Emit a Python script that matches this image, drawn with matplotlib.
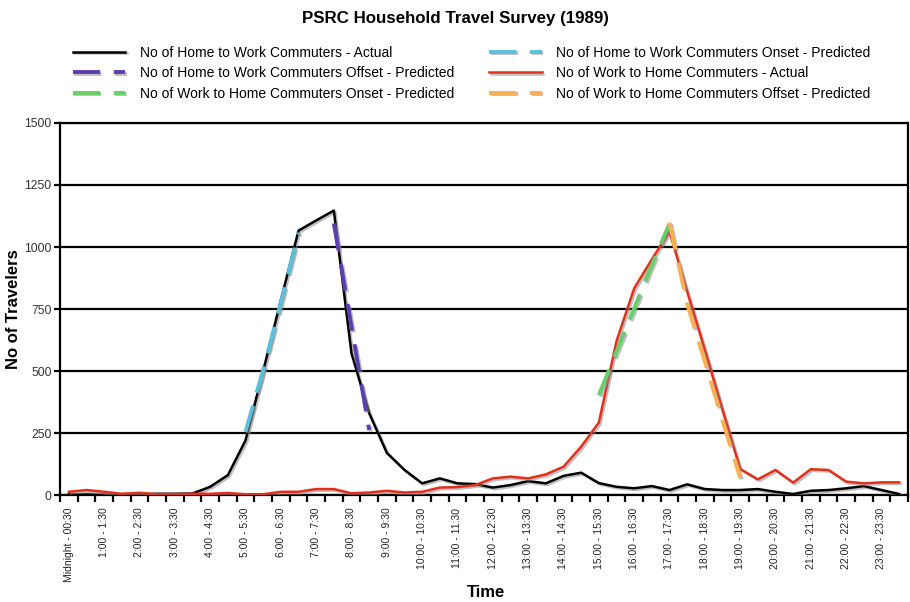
"""
PSRC Household Travel Survey (1989): home-to-work and work-to-home commuters
by half-hour interval, with the predicted onset/offset fits.
"""

import matplotlib.pyplot as plt
import matplotlib.patheffects as pe
import numpy as np

plt.rcParams['font.family'] = ['Liberation Sans', 'DejaVu Sans']

# ----------------------------------------------------------------------------
# Data
# ----------------------------------------------------------------------------
hours = ['Midnight'] + [f'{h}:00' for h in range(1, 24)]
time_labels = []
for h in range(24):
    start = hours[h]
    half = f'{h:02d}:30' if h == 0 else f'{h}:30'
    nxt = f'{h + 1}:00' if h < 23 else 'Midnight'
    time_labels.append(f'{start} - {half}')
    time_labels.append(f'{half} - {nxt}')

hw_actual = [3, 2, 1, 0, 2, 5, 5, 6, 33, 80, 220, 500, 785, 1066, 1107, 1147,
             571, 330, 170, 101, 47, 67, 47, 44, 30, 40, 56, 47, 77, 90, 48, 33,
             27, 36, 20, 43, 24, 20, 20, 24, 13, 4, 17, 20, 27, 36, 20, 4]

wh_actual = [13, 20, 13, 5, 9, 3, 3, 5, 5, 8, 3, 3, 13, 13, 24, 24,
             7, 10, 17, 10, 13, 30, 32, 40, 67, 74, 67, 83, 114, 195, 292, 620,
             833, 950, 1062, 820, 585, 343, 105, 63, 101, 50, 104, 101, 54, 47, 51, 51]

hw_onset_idx = [10, 11, 12, 13]
hw_onset = [255, 505, 775, 1058]

hw_offset_idx = [15, 16, 17]
hw_offset = [1095, 679, 262]

wh_onset_idx = [30, 31, 32, 33, 34]
wh_onset = [403, 578, 753, 927, 1095]

wh_offset_idx = [34, 35, 36, 37, 38]
wh_offset = [1098, 770, 538, 300, 70]

# ----------------------------------------------------------------------------
# Figure
# ----------------------------------------------------------------------------
fig = plt.figure(figsize=(9.1, 6.02), dpi=100)
ax = fig.add_axes([60 / 910, 1 - 495 / 602, 848 / 910, 372 / 602])

shadow = [pe.SimpleLineShadow(offset=(1.2, -1.2), shadow_color='0.55', alpha=0.55),
          pe.Normal()]

x = np.arange(len(time_labels))
dash = (7, 3.5)

l_hw, = ax.plot(x, hw_actual, color='black', lw=1.8, zorder=3,
                path_effects=shadow, label='No of Home to Work Commuters - Actual')
l_wh, = ax.plot(x, wh_actual, color='#e2301c', lw=1.8, zorder=3,
                path_effects=shadow, label='No of Work to Home Commuters - Actual')
l_hwon, = ax.plot(hw_onset_idx, hw_onset, color='#5bc0de', lw=2.8, dashes=dash,
                  zorder=4, path_effects=shadow,
                  label='No of Home to Work Commuters Onset - Predicted')
l_hwoff, = ax.plot(hw_offset_idx, hw_offset, color='#5b3fae', lw=2.8, dashes=dash,
                   zorder=4, path_effects=shadow,
                   label='No of Home to Work Commuters Offset - Predicted')
l_whon, = ax.plot(wh_onset_idx, wh_onset, color='#66cf6a', lw=2.8, dashes=dash,
                  zorder=4, path_effects=shadow,
                  label='No of Work to Home Commuters Onset - Predicted')
l_whoff, = ax.plot(wh_offset_idx, wh_offset, color='#fdb052', lw=2.8, dashes=dash,
                   zorder=4, path_effects=shadow,
                   label='No of Work to Home Commuters Offset - Predicted')

# axes, grid, ticks
ax.set_xlim(-0.5, len(time_labels) - 0.5)
ax.set_ylim(0, 1500)
ax.set_yticks(np.arange(0, 1501, 250))
ax.yaxis.grid(True, color='black', lw=1.6)
ax.set_axisbelow(True)
for s in ax.spines.values():
    s.set_linewidth(1.6)

ax.set_xticks(x[::2])
ax.set_xticklabels(time_labels[::2], rotation=90)
ax.set_xticks(np.arange(-0.5, len(time_labels)), minor=True)
ax.tick_params(axis='x', which='major', length=0, pad=9, labelsize=7.5,
               labelcolor='#222222')
ax.tick_params(axis='x', which='minor', length=5, width=1.6)
ax.tick_params(axis='y', which='major', length=4, width=1.6, pad=2,
               labelsize=8.8, labelcolor='#333333')

ax.set_xlabel('Time', fontsize=12, fontweight='bold')
ax.xaxis.set_label_coords((486 - 60) / 848, -(585 - 495) / 372)
ax.set_ylabel('No of Travelers', fontsize=12, fontweight='bold')
ax.yaxis.set_label_coords(-(60 - 21) / 848, 0.5)

fig.suptitle('PSRC Household Travel Survey (1989)', fontsize=12.2,
             fontweight='bold', y=0.982)

handles = [l_hw, l_hwoff, l_whon, l_hwon, l_wh, l_whoff]
fig.legend(handles=handles, labels=[h.get_label() for h in handles],
           loc='upper left', bbox_to_anchor=(67 / 910, 1 - 40 / 602), ncol=2,
           frameon=False, fontsize=10, handlelength=3.8, handletextpad=1.05,
           columnspacing=2.5, labelspacing=0.47, borderaxespad=0)

plt.savefig('out.png', dpi=100, facecolor='white')
